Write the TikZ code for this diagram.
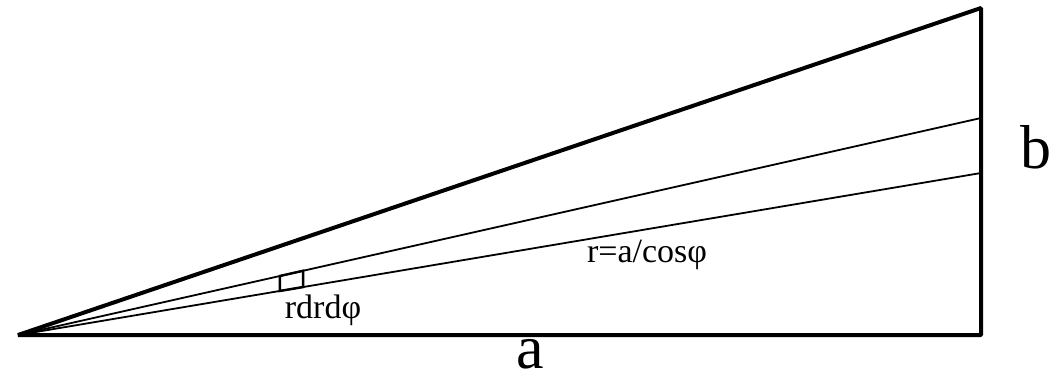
\documentclass[tikz,border=0pt]{standalone}
\usepackage{fontspec}
\setmainfont{Liberation Serif}
\usepackage{tikz}
\usetikzlibrary{calc}
\usetikzlibrary{positioning}

\tikzset{
    side/.style={line width=2pt, line join=bevel},
    ray/.style={line width=0.9pt},
    cell/.style={line width=1.2pt},
    biglabel/.style={font=\fontsize{31}{34}\selectfont, inner sep=0pt, anchor=base},
    smalllabel/.style={font=\fontsize{17}{20}\selectfont, inner sep=0pt, anchor=base}
}

\begin{document}
\begin{tikzpicture}[x=0.5pt, y=-0.5pt]
    \useasboundingbox (0,0) rectangle (1064,382);

    \coordinate (o) at (18,335);
    \coordinate (ar) at (981,335);
    \coordinate (br) at (981,8);

    % rays
    \coordinate (r1) at (981,118);
    \coordinate (r2) at (981,173);

    \draw[side] (o) -- (ar) -- (br) -- cycle;
    \draw[ray] (o) -- (r1);
    \draw[ray] (o) -- (r2);

    % area element
    \coordinate (c1) at ($(o)!0.272!(r1)$);
    \coordinate (c2) at ($(o)!0.296!(r1)$);
    \coordinate (c3) at ($(o)!0.296!(r2)$);
    \coordinate (c4) at ($(o)!0.272!(r2)$);
    \draw[cell] (c1) -- (c2) -- (c3) -- (c4) -- cycle;

    \node[smalllabel] (elem) at (323,318) {rdrdφ};
    \node[smalllabel] (rlen) at (647,262) {r=a/cosφ};

    \node[biglabel] (alab) at (530,368) {a};
    \node[biglabel] (blab) at (1036,168) {b};
\end{tikzpicture}
\end{document}
